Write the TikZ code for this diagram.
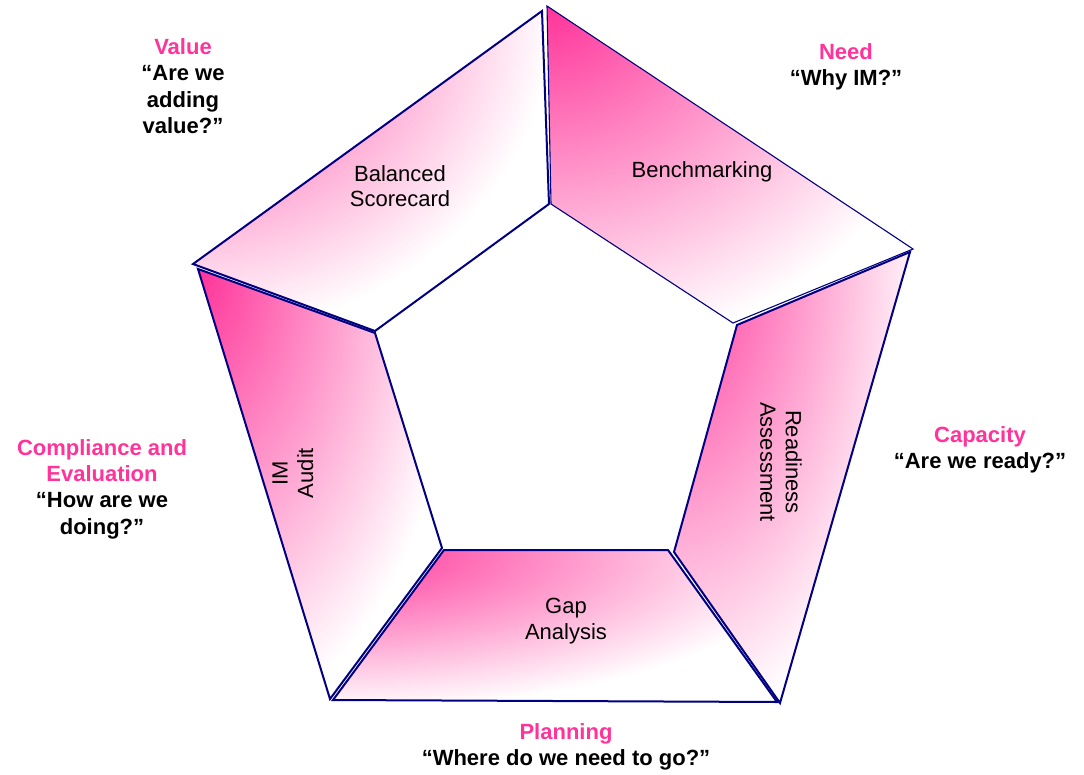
\documentclass[tikz,border=0pt]{standalone}
\usepackage{fontspec}
\setmainfont{Liberation Sans}
\definecolor{pinkA}{RGB}{255,51,153}
\definecolor{navyE}{RGB}{0,0,128}
\tikzset{
  edge/.style={draw=navyE, line width=2pt, line join=miter},
  thinedge/.style={draw=navyE, line width=1.1pt, line join=miter},
  lbl/.style={font=\fontsize{22}{25.5}\selectfont, align=center, inner sep=0pt, text=black},
  head/.style={font=\bfseries\fontsize{22}{26.3}\selectfont, align=center, inner sep=0pt, text=black},
  pinkfill/.style={inner color=pinkA, outer color=white}
}
\begin{document}
\begin{tikzpicture}[x=1pt,y=-1pt]
\useasboundingbox (0,0) rectangle (1084,774);
\fill[white] (0,0) rectangle (1084,774);

% Balanced Scorecard panel
\begin{scope}
  \clip (193,264) -- (542,11) -- (549,204) -- (375,331) -- cycle;
  \shade[pinkfill] (193,11) ellipse [x radius=360pt, y radius=325pt];
\end{scope}
\draw[edge] (193,264) -- (542,11) -- (549,204) -- (375,331) -- cycle;

% Benchmarking panel
\begin{scope}
  \clip (547,6) -- (913,249) -- (733,323) -- (551,204) -- cycle;
  \shade[pinkfill] (547,6) ellipse [x radius=410pt, y radius=350pt];
\end{scope}
\draw[thinedge] (547,6) -- (913,249) -- (733,323) -- (551,204) -- cycle;

% Readiness Assessment panel
\begin{scope}
  \clip (910,252) -- (780,703) -- (674,552) -- (737,325) -- cycle;
  \shade[pinkfill] (674,252) ellipse [x radius=255pt, y radius=480pt];
\end{scope}
\draw[edge] (910,252) -- (780,703) -- (674,552) -- (737,325) -- cycle;

% Gap Analysis panel
\begin{scope}
  \clip (444,550) -- (668,550) -- (777,702) -- (333,700) -- cycle;
  \shade[pinkfill] (333,550) ellipse [x radius=480pt, y radius=160pt];
\end{scope}
\draw[edge] (444,550) -- (668,550) -- (777,702) -- (333,700) -- cycle;

% IM Audit panel
\begin{scope}
  \clip (198,269) -- (375,333) -- (442,548) -- (330,699) -- cycle;
  \shade[pinkfill] (198,269) ellipse [x radius=265pt, y radius=460pt];
\end{scope}
\draw[edge] (198,269) -- (375,333) -- (442,548) -- (330,699) -- cycle;

% panel labels
\node[lbl] (bsc) at (400,186) {Balanced\\Scorecard};
\node[lbl] (bench) at (702,172) {Benchmarking};
\node[lbl, rotate=-90] (ready) at (781,462) {Readiness\\Assessment};
\node[lbl] (gap) at (566,621) {Gap\\Analysis};
\node[lbl, rotate=90] (audit) at (293,473) {IM\\Audit};

% outer headings
\node[head] (value) at (183,86) {\textcolor{pinkA}{Value}\\“Are we\\adding\\value?”};
\node[head] (need) at (846,67) {\textcolor{pinkA}{Need}\\“Why IM?”};
\node[head] (capacity) at (980,450) {\textcolor{pinkA}{Capacity}\\“Are we ready?”};
\node[head] (compliance) at (102,489) {\textcolor{pinkA}{Compliance and}\\\textcolor{pinkA}{Evaluation}\\“How are we\\doing?”};
\node[head] (planning) at (566,747) {\textcolor{pinkA}{Planning}\\“Where do we need to go?”};
\end{tikzpicture}
\end{document}
